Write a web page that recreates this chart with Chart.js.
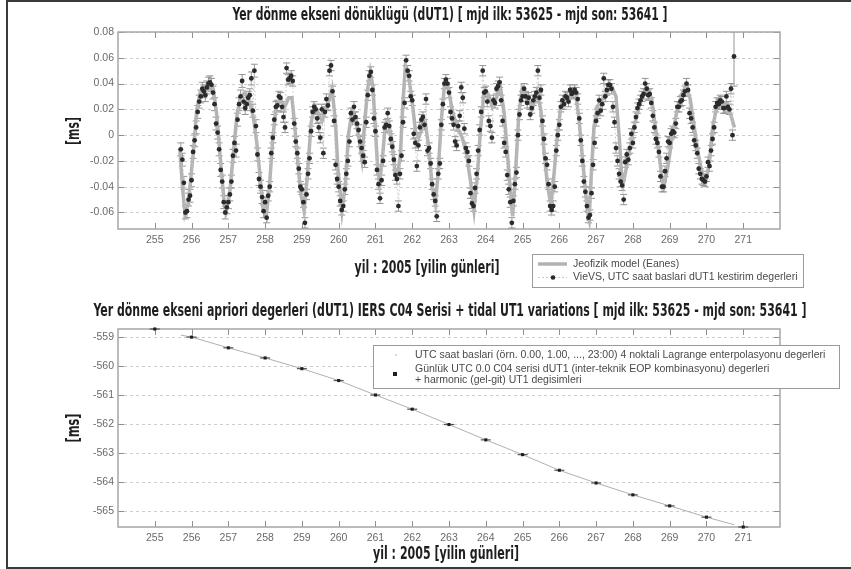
<!DOCTYPE html>
<html>
<head>
<meta charset="utf-8">
<script src="https://cdn.jsdelivr.net/npm/chart.js@4.4.1/dist/chart.umd.min.js"></script>
<style>
  body { margin: 0; background: #fff; }
  #wrap { position: relative; width: 851px; height: 569px; overflow: hidden; }
  #frame { position: absolute; left: 6px; top: 0; width: 900px; height: 569px; border: 2px solid #3a3a3a; border-right: none; box-sizing: border-box; }
  canvas { position: absolute; left: 0; }
</style>
</head>
<body>
<div id="wrap">
  <div id="frame"></div>
  <canvas id="dutChart" width="851" height="290" style="top:0"></canvas>
  <canvas id="aprioriChart" width="851" height="279" style="top:290px"></canvas>
</div>
<script>
// ---- top panel: Eanes model (microseconds) ----
const modelDays = [
  255.68, 255.75, 255.82, 255.91, 256.05, 256.14, 256.23, 256.32, 256.50, 256.59, 256.68, 256.75, 256.82, 256.88, 256.95,
  257.05, 257.14, 257.23, 257.32, 257.45, 257.57, 257.68, 257.77, 257.86, 257.95, 258.03, 258.12, 258.21, 258.30, 258.41,
  258.52, 258.64, 258.73, 258.80, 258.88, 258.97, 259.06, 259.15, 259.25, 259.34, 259.45, 259.55, 259.68, 259.82, 259.91,
  259.98, 260.09, 260.18, 260.27, 260.36, 260.45, 260.55, 260.63, 260.72, 260.79, 260.86, 260.93, 260.99, 261.06, 261.11,
  261.19, 261.27, 261.36, 261.45, 261.54, 261.60, 261.68, 261.74, 261.81, 261.90, 261.99, 262.09, 262.18, 262.27, 262.36,
  262.45, 262.54, 262.63, 262.70, 262.79, 262.88, 262.97, 263.09, 263.22, 263.36, 263.48, 263.59, 263.68, 263.77, 263.86,
  263.95, 264.06, 264.18, 264.30, 264.40, 264.50, 264.59, 264.68, 264.73, 264.81, 264.90, 264.99, 265.13, 265.27, 265.40,
  265.50, 265.59, 265.68, 265.77, 265.86, 265.95, 266.04, 266.18, 266.31, 266.44, 266.53, 266.62, 266.69, 266.76, 266.81,
  266.87, 266.94, 267.03, 267.17, 267.31, 267.42, 267.54, 267.63, 267.69, 267.74, 267.84, 267.94, 268.05, 268.17, 268.31,
  268.40, 268.51, 268.60, 268.69, 268.78, 268.85, 268.96, 269.08, 269.20, 269.33, 269.44, 269.56, 269.67, 269.78, 269.88,
  269.99, 270.08, 270.17, 270.28, 270.40, 270.53, 270.65, 270.76
];
const modelUs = [
  -10, -39, -61, -53, -13, 19, 33, 37, 41, 36, 17, -7, -31, -50, -58,
  -42, -13, 14, 29, 33, 26, 14, -5, -31, -58, -63, -39, -2, 22, 29,
  21, 29, 29, 9, -18, -45, -59, -31, 9, 23, 17, 11, 22, 36, 11,
  -26, -59, -39, 1, 18, 14, -2, -18, 14, 36, 49, 38, 9, -26, -37,
  -18, 9, 9, -5, -31, -31, -15, 22, 52, 46, 28, 3, -2, 6, 9,
  -10, -39, -53, -31, 11, 40, 38, 19, 6, -2, -15, -37, -58, -31, 6,
  33, 32, 22, 30, 37, 17, -15, -47, -63, -29, 17, 36, 28, 21, 33,
  19, -15, -39, -54, -29, 1, 22, 26, 30, 33, 14, -15, -37, -58, -65,
  -31, 6, 22, 28, 34, 38, 30, -2, -29, -37, -23, -7, 9, 22, 33,
  36, 28, 9, -10, -31, -39, -23, 1, 19, 32, 38, 28, 6, -15, -29,
  -35, -21, 6, 22, 25, 22, 17, 6
];

// ---- top panel: VieVS hourly dUT1 estimates (microseconds), first epoch 255 17:00 UTC ----
const estFirstDay = 255 + 17 / 24;
const estUs = [
  -11, -19, -37, -60, -59, -50, -47,
  -35, -13, -4, 6, 18, 26, 30, 36, 34, 31, 37, 40, 41, 39, 33, 24, 9, 2, -11, -27, -36, -52, -60, -56,
  -52, -46, -36, -16, -6, -12, 12, 24, 30, 42, 26, 21, 24, 29, 31, 44, 19, 50, 7, -15, -34, -40, -48, -59,
  -52, -64, -47, -40, -14, -2, 12, 22, 23, 30, 29, 22, 14, 6, 52, 43, 44, 46, 42, 9, -5, -14, -26, -40,
  -42, -52, -68, -46, -30, -18, 3, 18, 22, 20, 13, 6, -2, 20, -14, 18, 28, 23, 50, 54, 34, 11, -23, -34,
  -40, -51, -58, -55, -42, -30, -20, -5, 17, 12, 22, 14, 9, 4, -5, -10, -16, -21, 10, 31, 46, 49, 35, 13,
  3, -27, -38, -49, -35, -20, 6, 8, 17, 7, -3, -9, -19, -31, -34, -55, -30, -16, 10, 25, 58, 50, 46, 30,
  27, 1, -6, -24, -8, 6, 12, 14, 8, 28, -12, -10, -22, -38, -46, -51, -63, -30, -22, 8, 24, 40, 43, 40,
  33, 18, 13, 8, -5, -8, 7, 15, 37, 29, 5, -10, -13, -20, -45, -53, -55, -41, -30, -12, 4, 18, 50, 33,
  34, 26, 11, 7, -2, 27, 25, 36, 38, 41, 27, 11, -6, -13, -31, -42, -52, -68, -51, -38, -29, 0, 16, 27,
  30, 36, 30, 25, 29, 16, 21, 27, 30, 33, 50, 29, 35, 11, -3, -18, -23, -38, -55, -58, -55, -40, -12, 0,
  8, 22, 27, 24, 30, 29, 26, 35, 32, 33, 35, 33, 28, 13, -4, -20, -36, -44, -55, -64, -62, -45, -23, -6,
  11, 17, 27, 19, 24, 44, 30, 35, 39, 39, 36, 22, 10, -10, -20, -30, -36, -39, -50, -21, -15, -19, -10, 1,
  -6, 6, 14, 21, 24, 27, 30, 32, 40, 36, 31, 32, 25, 15, 6, -3, -6, -13, -32, -40, -40, -28, -18, -5,
  -6, 1, 3, 2, 9, 22, 22, 26, 27, 31, 34, 40, 35, 17, 13, 6, -4, -8, -14, -26, -30, -34, -35, -36,
  -32, -21, -24, -12, -3, 6, 22, 25, 24, 27, 26, 21, 21, 30, 22, 20, 36, 0, 61
];
// formal errors (microseconds), typical value per day 255..270, and the last epoch
const estSigmaUs = [5, 5, 5, 4, 4, 4, 4, 4, 4, 4, 4, 4, 4, 4, 4, 4];
const lastSigmaUs = 23;

// ---- bottom panel: a priori dUT1 (ms) ----
const aprioriDays = [255, 256, 257, 258, 259, 260, 261, 262, 263, 264, 265, 266, 267, 268, 269, 270, 271];
const aprioriMs = [-558.72, -559.00, -559.37, -559.72, -560.09, -560.50, -561.00, -561.49, -562.02,
  -562.55, -563.06, -563.60, -564.04, -564.45, -564.83, -565.22, -565.56];
const interpStart = [255.708, -558.93];
const interpEnd = [270.75, -565.48];

const dayTicks = [255, 256, 257, 258, 259, 260, 261, 262, 263, 264, 265, 266, 267, 268, 269, 270, 271];

const modelPoints = modelDays.map((d, i) => ({ x: d, y: modelUs[i] / 1000 }));
const estPoints = estUs.map((v, i) => ({ x: estFirstDay + i / 24, y: v / 1000 }));
const sigmaFor = i => (i === estUs.length - 1 ? lastSigmaUs : estSigmaUs[Math.floor(estPoints[i].x + 1e-9) - 255]) / 1000;
const aprioriPoints = aprioriDays.map((d, i) => ({ x: d, y: aprioriMs[i] }));
const interpPoints = [{ x: interpStart[0], y: interpStart[1] }]
  .concat(aprioriPoints.filter(p => p.x > interpStart[0] && p.x < interpEnd[0]))
  .concat([{ x: interpEnd[0], y: interpEnd[1] }]);

Chart.defaults.font.family = '"Liberation Sans", Arial, sans-serif';
Chart.defaults.color = '#666';

function condensed(ctx, str, cx, cy, width, rot) {
  ctx.save();
  ctx.font = 'bold 17px "DejaVu Sans Condensed", "DejaVu Sans", sans-serif';
  const w = ctx.measureText(str).width;
  ctx.translate(cx, cy);
  if (rot) ctx.rotate(rot);
  ctx.scale(width / w, 1);
  ctx.textAlign = 'center';
  ctx.textBaseline = 'middle';
  ctx.fillStyle = '#1e1e1e';
  ctx.fillText(str, 0, 0);
  ctx.restore();
}

function legendText(ctx, str, x, y) {
  ctx.font = '10.5px "Liberation Sans", Arial, sans-serif';
  ctx.fillStyle = '#4a4a4a';
  ctx.textAlign = 'left';
  ctx.textBaseline = 'middle';
  ctx.fillText(str, x, y);
}

// matlab style axes: dashed horizontal grid, grey box, inward ticks
const matlabAxes = {
  id: 'matlabAxes',
  beforeDatasetsDraw(chart) {
    const { ctx, chartArea: a, scales: { x, y } } = chart;
    ctx.save();
    ctx.strokeStyle = '#cdcdcd';
    ctx.lineWidth = 1;
    ctx.setLineDash([3, 3]);
    y.ticks.forEach(t => {
      const py = Math.round(y.getPixelForValue(t.value)) + 0.5;
      ctx.beginPath(); ctx.moveTo(a.left, py); ctx.lineTo(a.right, py); ctx.stroke();
    });
    ctx.setLineDash([]);
    ctx.strokeStyle = '#8f8f8f';
    ctx.beginPath();
    x.ticks.forEach(t => {
      const px = Math.round(x.getPixelForValue(t.value)) + 0.5;
      ctx.moveTo(px, a.bottom); ctx.lineTo(px, a.bottom - 6);
      ctx.moveTo(px, a.top); ctx.lineTo(px, a.top + 6);
    });
    y.ticks.forEach(t => {
      const py = Math.round(y.getPixelForValue(t.value)) + 0.5;
      ctx.moveTo(a.left, py); ctx.lineTo(a.left + 6, py);
      ctx.moveTo(a.right, py); ctx.lineTo(a.right - 6, py);
    });
    ctx.stroke();
    ctx.strokeStyle = '#a6a6a6';
    ctx.lineWidth = 1.5;
    ctx.strokeRect(a.left, a.top, a.right - a.left, a.bottom - a.top);
    ctx.restore();
  }
};

const errorBars = {
  id: 'errorBars',
  beforeDatasetsDraw(chart) {
    const { ctx, chartArea: a, scales: { x, y } } = chart;
    ctx.save();
    ctx.beginPath(); ctx.rect(a.left, a.top, a.right - a.left, a.bottom - a.top); ctx.clip();
    ctx.strokeStyle = '#8a8a8a';
    ctx.lineWidth = 0.9;
    ctx.beginPath();
    estPoints.forEach((p, i) => {
      const s = sigmaFor(i);
      const px = x.getPixelForValue(p.x);
      const y1 = y.getPixelForValue(p.y + s), y2 = y.getPixelForValue(p.y - s);
      ctx.moveTo(px, y1); ctx.lineTo(px, y2);
      ctx.moveTo(px - 3.5, y1); ctx.lineTo(px + 3.5, y1);
      ctx.moveTo(px - 3.5, y2); ctx.lineTo(px + 3.5, y2);
    });
    ctx.stroke();
    ctx.restore();
  }
};

const topLabels = {
  id: 'topLabels',
  afterDraw(chart) {
    const ctx = chart.ctx;
    condensed(ctx, 'Yer dönme ekseni dönüklügü (dUT1) [ mjd ilk: 53625 - mjd son: 53641 ]', 450, 16, 435);
    condensed(ctx, 'yil : 2005 [yilin günleri]', 427, 269, 145);
    condensed(ctx, '[ms]', 75, 131, 28, -Math.PI / 2);
    // legend
    ctx.save();
    ctx.fillStyle = '#fff';
    ctx.fillRect(532, 254, 271, 33);
    ctx.strokeStyle = '#9a9a9a'; ctx.lineWidth = 1;
    ctx.strokeRect(532.5, 254.5, 271, 33);
    ctx.strokeStyle = '#b3b3b3'; ctx.lineWidth = 3.5;
    ctx.beginPath(); ctx.moveTo(538, 264); ctx.lineTo(567, 264); ctx.stroke();
    ctx.strokeStyle = '#bdbdbd'; ctx.lineWidth = 0.8; ctx.setLineDash([2, 2]);
    ctx.beginPath(); ctx.moveTo(538, 277.5); ctx.lineTo(567, 277.5); ctx.stroke();
    ctx.setLineDash([]);
    ctx.fillStyle = '#2b2b2b';
    ctx.beginPath(); ctx.arc(553, 277.5, 2.3, 0, 2 * Math.PI); ctx.fill();
    legendText(ctx, 'Jeofizik model (Eanes)', 573, 264);
    legendText(ctx, 'VieVS, UTC saat baslari dUT1 kestirim degerleri', 573, 277.5);
    ctx.restore();
  }
};

const bottomLabels = {
  id: 'bottomLabels',
  afterDraw(chart) {
    const ctx = chart.ctx;
    condensed(ctx, 'Yer dönme ekseni apriori degerleri (dUT1) IERS C04 Serisi + tidal UT1 variations [ mjd ilk: 53625 - mjd son: 53641 ]', 450, 22, 713);
    condensed(ctx, 'yil : 2005 [yilin günleri]', 446, 265, 146);
    condensed(ctx, '[ms]', 75, 138, 29, -Math.PI / 2);
    ctx.save();
    ctx.fillStyle = '#fff';
    ctx.fillRect(373, 55, 466, 43);
    ctx.strokeStyle = '#9a9a9a'; ctx.lineWidth = 1;
    ctx.strokeRect(373.5, 55.5, 466, 43);
    ctx.fillStyle = '#cfcfcf';
    ctx.beginPath(); ctx.arc(396, 65, 1, 0, 2 * Math.PI); ctx.fill();
    ctx.fillStyle = '#1e1e1e';
    ctx.fillRect(393, 82, 4, 4);
    legendText(ctx, 'UTC saat baslari (örn. 0.00, 1.00, ..., 23:00) 4 noktali Lagrange enterpolasyonu degerleri', 415, 65);
    legendText(ctx, 'Günlük UTC 0.0 C04 serisi dUT1 (inter-teknik EOP kombinasyonu) degerleri', 415, 79);
    legendText(ctx, '+ harmonic (gel-git) UT1 degisimleri', 415, 90);
    ctx.restore();
  }
};

const keepDayTicks = scale => { scale.ticks = dayTicks.map(v => ({ value: v })); };

function axes(yMin, yMax, yStep, yFmt, xHeight) {
  return {
    x: {
      type: 'linear', min: 254, max: 272,
      afterBuildTicks: keepDayTicks,
      afterFit: s => { s.height = xHeight; },
      grid: { display: false, drawTicks: false }, border: { display: false },
      ticks: { padding: 5, font: { size: 10.5 }, maxRotation: 0, autoSkip: false, color: '#6a6a6a' }
    },
    y: {
      min: yMin, max: yMax,
      afterFit: s => { s.width = 118; },
      grid: { display: false, drawTicks: false }, border: { display: false },
      ticks: { stepSize: yStep, includeBounds: false, padding: 4, font: { size: 10.5 }, color: '#6a6a6a', callback: yFmt }
    }
  };
}

new Chart(document.getElementById('dutChart'), {
  type: 'scatter',
  data: {
    datasets: [{
      label: 'VieVS, UTC saat baslari dUT1 kestirim degerleri',
      data: estPoints,
      showLine: true,
      borderColor: '#c4c4c4',
      borderWidth: 0.8,
      borderDash: [2, 2],
      pointRadius: 2.4,
      pointBackgroundColor: '#2b2b2b',
      pointBorderWidth: 0,
      order: 0
    }, {
      label: 'Jeofizik model (Eanes)',
      data: modelPoints,
      showLine: true,
      borderColor: '#b3b3b3',
      borderWidth: 3.5,
      pointRadius: 0,
      order: 1
    }]
  },
  options: {
    responsive: false, animation: false, devicePixelRatio: 1,
    layout: { padding: { left: 0, right: 71, top: 32, bottom: 0 } },
    plugins: { legend: { display: false }, tooltip: { enabled: false } },
    scales: axes(-0.0728, 0.08, 0.02, v => String(+v.toFixed(2)), 61)
  },
  plugins: [matlabAxes, errorBars, topLabels]
});

new Chart(document.getElementById('aprioriChart'), {
  type: 'scatter',
  data: {
    datasets: [{
      label: 'Günlük UTC 0.0 C04 serisi dUT1',
      data: aprioriPoints,
      pointStyle: 'rect',
      pointRadius: 2.2,
      pointBackgroundColor: '#1e1e1e',
      pointBorderWidth: 0,
      clip: false,
      order: 0
    }, {
      label: 'bar',
      data: aprioriPoints,
      pointStyle: 'line',
      pointRadius: 5,
      pointBorderColor: '#555',
      pointBorderWidth: 1.2,
      clip: false,
      order: 1
    }, {
      label: 'UTC saat baslari Lagrange',
      data: interpPoints,
      showLine: true,
      borderColor: '#b0b0b0',
      borderWidth: 1,
      pointRadius: 0,
      order: 2
    }]
  },
  options: {
    responsive: false, animation: false, devicePixelRatio: 1,
    layout: { padding: { left: 0, right: 71, top: 39, bottom: 0 } },
    plugins: { legend: { display: false }, tooltip: { enabled: false } },
    scales: axes(-565.56, -558.72, 1, v => String(Math.round(v)), 42)
  },
  plugins: [matlabAxes, bottomLabels]
});
</script>
</body>
</html>
